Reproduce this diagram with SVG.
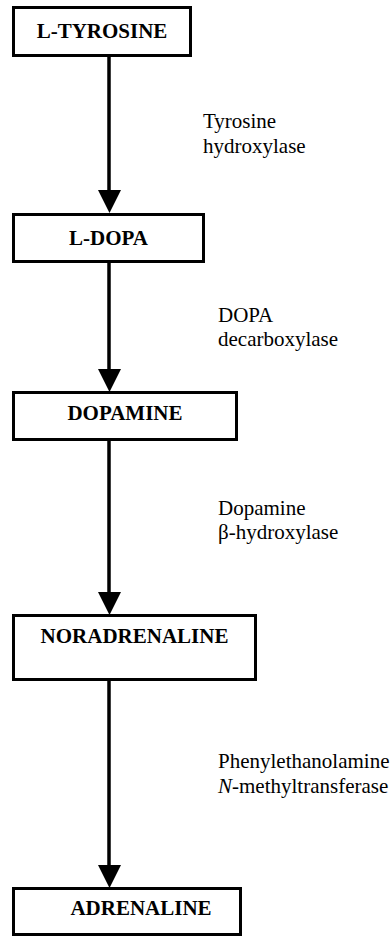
<svg xmlns="http://www.w3.org/2000/svg" width="392" height="936" viewBox="0 0 392 936">
  <style>
    .box { fill: #ffffff; stroke: #000000; stroke-width: 3; }
    .name { font-family: "Liberation Serif", "Times New Roman", serif; font-weight: bold; font-size: 21px; fill: #000000; text-anchor: middle; }
    .enz { font-family: "Liberation Serif", "Times New Roman", serif; font-size: 21px; fill: #000000; }
    .link { stroke: #000000; stroke-width: 3.5; fill: none; }
    .head { fill: #000000; }
  </style>
  <rect width="392" height="936" fill="#ffffff"/>

  <!-- connectors: stem plus filled arrowhead -->
  <g id="connectors">
    <line class="link" x1="109" y1="55" x2="109" y2="192"/>
    <polygon class="head" points="98,190 121,190 109.5,213"/>
    <line class="link" x1="109" y1="262" x2="109" y2="371"/>
    <polygon class="head" points="98,369 121,369 109.5,392"/>
    <line class="link" x1="109" y1="440" x2="109" y2="594"/>
    <polygon class="head" points="98,592 121,592 109.5,615"/>
    <line class="link" x1="109" y1="680" x2="109" y2="867"/>
    <polygon class="head" points="98,865 121,865 109.5,888"/>
  </g>

  <!-- enzyme labels -->
  <g id="enzymes">
    <text class="enz" x="203" y="128">Tyrosine</text>
    <text class="enz" x="203" y="153">hydroxylase</text>
    <text class="enz" x="218" y="322">DOPA</text>
    <text class="enz" x="218" y="346">decarboxylase</text>
    <text class="enz" x="218" y="515">Dopamine</text>
    <text class="enz" x="218" y="539">β-hydroxylase</text>
    <text class="enz" x="218" y="768">Phenylethanolamine</text>
    <text class="enz" x="218" y="793"><tspan font-style="italic">N</tspan>-methyltransferase</text>
  </g>

  <g id="tyrosine">
    <rect class="box" x="13.5" y="7.5" width="177" height="48"/>
    <text class="name" x="102" y="38">L-TYROSINE</text>
  </g>
  <g id="dopa">
    <rect class="box" x="13.5" y="214.5" width="190" height="47"/>
    <text class="name" x="108.5" y="245">L-DOPA</text>
  </g>
  <g id="dopamine">
    <rect class="box" x="13.5" y="392.5" width="223" height="47"/>
    <text class="name" x="125" y="420">DOPAMINE</text>
  </g>
  <g id="noradrenaline">
    <rect class="box" x="13.5" y="615.5" width="242" height="64"/>
    <text class="name" x="134.5" y="643">NORADRENALINE</text>
  </g>
  <g id="adrenaline">
    <rect class="box" x="13.5" y="888.5" width="227" height="46"/>
    <text class="name" x="141" y="915">ADRENALINE</text>
  </g>
</svg>
